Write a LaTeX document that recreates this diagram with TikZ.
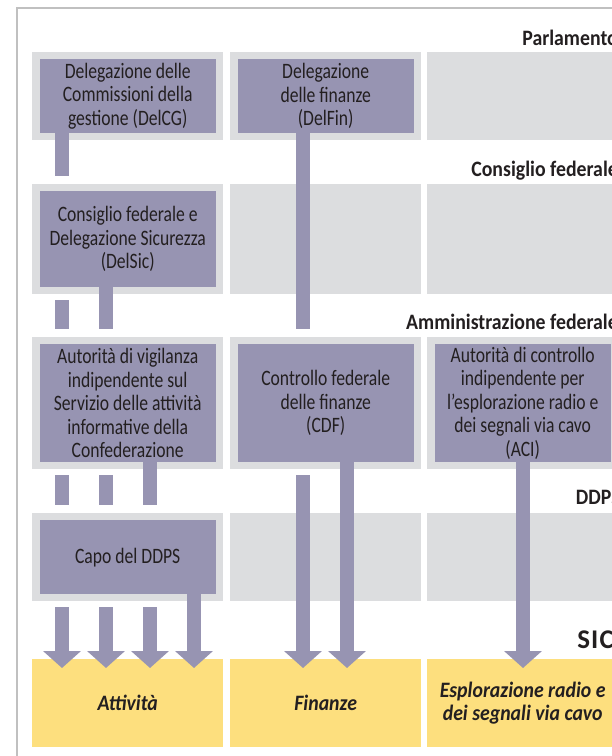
\documentclass[tikz,border=0pt]{standalone}
\usepackage{fontspec}
\setmainfont{Carlito}[FakeStretch=0.8]
\newfontfamily\titolo{Carlito}[FakeStretch=0.9]
\newfontfamily\sicfont{Carlito}[LetterSpace=4]
\usetikzlibrary{arrows.meta,calc}

\definecolor{grigio}{RGB}{220,221,223}
\definecolor{viola}{RGB}{151,148,178}
\definecolor{giallo}{RGB}{253,223,126}
\definecolor{cornice}{RGB}{192,192,192}
\definecolor{testo}{RGB}{35,31,32}

\tikzset{
  cella/.style={fill=grigio, minimum width=191pt, inner sep=0, anchor=north west},
  organo/.style={fill=viola, text=testo, align=center, inner sep=0, minimum width=176pt, font=\fontsize{22}{23.5}\selectfont},
  ambito/.style={fill=giallo, text=testo, align=center, inner sep=0, minimum width=191pt, minimum height=88pt, anchor=north west, font=\titolo\bfseries\itshape\fontsize{22}{23}\selectfont},
  livello/.style={text=testo, anchor=base east, inner sep=0, font=\titolo\bfseries\fontsize{22}{24}\selectfont},
  barra/.style={viola, line width=14pt},
  freccia/.style={barra, -{Triangle[width=37pt,length=17pt]}}
}

\begin{document}
\begin{tikzpicture}[x=1pt,y=-1pt]
  \useasboundingbox (0,0) rectangle (612,756);
  \clip (0,0) rectangle (612,756);
  % cornice
  \draw[cornice, line width=1.2pt] (17,780) -- (17,8) -- (650,8);
  % celle grigie
  \foreach \r/\t/\h in {1/52/88, 2/184/110, 3/337/132, 4/513/88}
    \foreach \c/\x in {1/32, 2/230, 3/427}
      \node[cella, minimum height=\h pt] (g\r\c) at (\x,\t) {};
  % organi
  \node[organo, minimum height=74pt] (delcg) at (g11) {Delegazione delle\\Commissioni della\\gestione (DelCG)};
  \node[organo, minimum height=74pt] (delfin) at (g12) {Delegazione\\delle finanze\\(DelFin)};
  \node[organo, minimum height=96pt] (delsic) at (g21) {Consiglio federale e\\Delegazione Sicurezza\\(DelSic)};
  \node[organo, minimum height=118pt] (asv) at (g31) {Autorità di vigilanza\\indipendente sul\\Servizio delle attività\\informative della\\Confederazione};
  \node[organo, minimum height=118pt] (cdf) at (g32) {Controllo federale\\delle finanze\\(CDF)};
  \node[organo, minimum height=118pt] (aci) at (g33) {Autorità di controllo\\indipendente per\\l’esplorazione radio e\\dei segnali via cavo\\(ACI)};
  \node[organo, minimum height=74pt] (capo) at (g41) {Capo del DDPS};
  % ambiti vigilati
  \node[ambito] (attivita) at (32,659) {Attività};
  \node[ambito] (finanze) at (230,659) {Finanze};
  \node[ambito] (esplorazione) at (427,659) {Esplorazione radio e\\dei segnali via cavo};
  % livelli
  \node[livello] (lparl) at (618,45) {Parlamento};
  \node[livello] (lcf) at (618,176) {Consiglio federale};
  \node[livello] (lamm) at (618,329) {Amministrazione federale};
  \node[livello] (lddps) at (621,504) {DDPS};
  \node[livello, font=\sicfont\bfseries\fontsize{27}{28}\selectfont] (lsic) at (614,648) {SIC};
  % linee di vigilanza
  \coordinate (b1) at (62,0);
  \coordinate (b2) at (106,0);
  \coordinate (b3) at (150,0);
  \coordinate (b4) at (194,0);
  \coordinate (b5) at (303,0);
  \coordinate (b6) at (347,0);
  \coordinate (b7) at (523,0);
  % colonna 1
  \draw[barra] (delcg.south -| b1) -- ($(g21.north -| b1)+(0,-8)$);
  \draw[barra] ($(g21.south -| b1)+(0,6)$) -- ($(g31.north -| b1)+(0,-8)$);
  \draw[barra] (delsic.south -| b2) -- ($(g31.north -| b2)+(0,-8)$);
  \foreach \b in {b1,b2}
    \draw[barra] ($(g31.south -| \b)+(0,6)$) -- ($(g41.north -| \b)+(0,-8)$);
  \draw[barra] (asv.south -| b3) -- ($(g41.north -| b3)+(0,-8)$);
  \foreach \b in {b1,b2,b3}
    \draw[freccia] ($(g41.south -| \b)+(0,6)$) -- ($(attivita.north -| \b)+(0,9)$);
  \draw[freccia] (capo.south -| b4) -- ($(attivita.north -| b4)+(0,9)$);
  % colonna 2
  \draw[barra] (delfin.south -| b5) -- ($(g32.north -| b5)+(0,-8)$);
  \draw[freccia] ($(g32.south -| b5)+(0,6)$) -- ($(finanze.north -| b5)+(0,9)$);
  \draw[freccia] (cdf.south -| b6) -- ($(finanze.north -| b6)+(0,9)$);
  % colonna 3
  \draw[freccia] (aci.south -| b7) -- ($(esplorazione.north -| b7)+(0,9)$);
\end{tikzpicture}
\end{document}
